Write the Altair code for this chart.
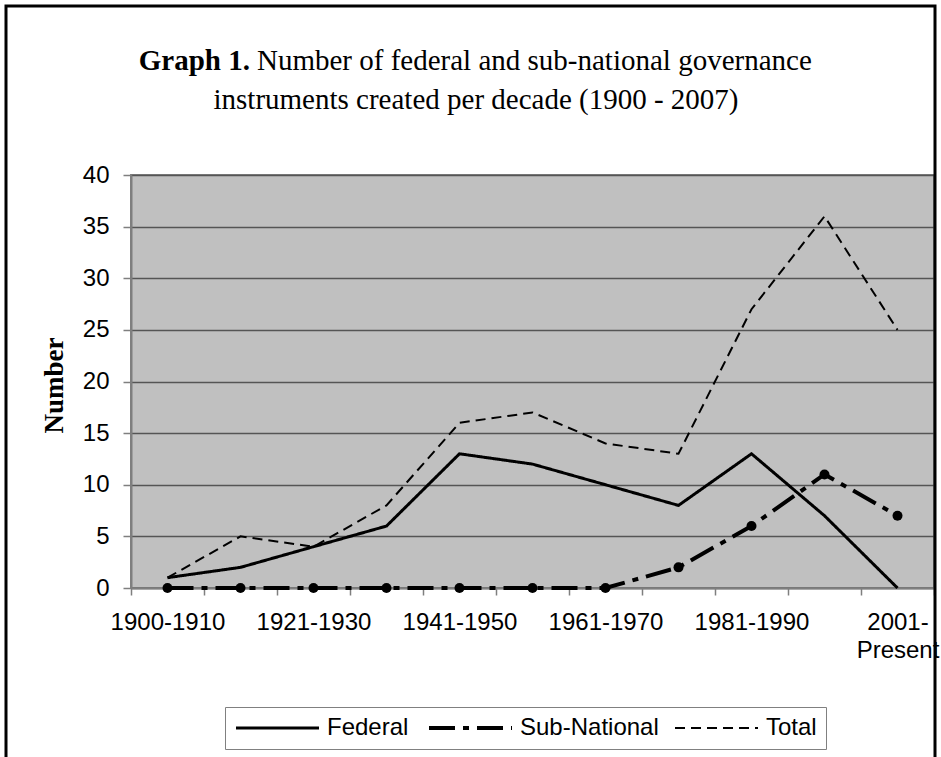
import json
import altair as alt
import pandas as pd

decades = ["1900-1910", "1911-1920", "1921-1930", "1931-1940", "1941-1950",
           "1951-1960", "1961-1970", "1971-1980", "1981-1990", "1991-2000",
           "2001-Present"]
federal = [1, 2, 4, 6, 13, 12, 10, 8, 13, 7, 0]
sub_national = [0, 0, 0, 0, 0, 0, 0, 2, 6, 11, 7]
total = [1, 5, 4, 8, 16, 17, 14, 13, 27, 36, 25]
series = ["Federal", "Sub-National", "Total"]
y_ticks = [0, 5, 10, 15, 20, 25, 30, 35, 40]

title_bold = "Graph 1."
title_rest = "Number of federal and sub-national governance"
title_line2 = "instruments created per decade (1900 - 2007)"

rows = []
for name, vals in zip(series, [federal, sub_national, total]):
    for d, v in zip(decades, vals):
        rows.append({"Decade": d, "Series": name, "Value": v})
df = pd.DataFrame(rows)
one = pd.DataFrame({"k": [0]})

odd = decades[1::2]
label_expr = ("datum.value == '2001-Present' ? ['2001-', 'Present'] : "
              "(indexof(" + json.dumps(odd) + ", datum.value) >= 0 ? '' : datum.label)")

x_enc = alt.X("Decade:N", sort=decades,
              scale=alt.Scale(type="band", paddingInner=0, paddingOuter=0),
              axis=alt.Axis(title=None, labelAngle=0, labelExpr=label_expr,
                            tickBand="extent", tickSize=7, labelPadding=15,
                            labelOverlap=False, labelLineHeight=28, grid=False,
                            domainColor="#7f7f7f", domainWidth=2,
                            tickColor="#7f7f7f", tickWidth=1.5))
y_enc = alt.Y("Value:Q", scale=alt.Scale(domain=[0, 40], nice=False),
              axis=alt.Axis(values=y_ticks, title="Number",
                            titleFont="Liberation Serif", titleFontWeight="bold",
                            titleFontSize=27, titleColor="black",
                            titleAngle=270, titleX=-69, titleY=210,
                            titleAlign="center", titleBaseline="alphabetic",
                            grid=True, gridColor="#555555", gridWidth=1.5,
                            tickSize=8, labelPadding=14,
                            domainColor="#7f7f7f", domainWidth=2,
                            tickColor="#7f7f7f", tickWidth=1.5))

# long horizontal swatch: radius 10 px (size 400), path from -1r to 7.3r -> 83 px
legend = alt.Legend(title=None, orient="none", legendX=94, legendY=532,
                    direction="horizontal", strokeColor="#808080",
                    fillColor="white", padding=9,
                    labelFont="Liberation Sans", labelFontSize=24,
                    labelColor="black", symbolSize=400,
                    symbolType="M-1,0H7.3",
                    labelOffset=69, columnPadding=12)

border = alt.Chart(one).mark_rect(filled=False, stroke="black", strokeWidth=3).encode(
    x=alt.value(-125), x2=alt.value(804), y=alt.value(-169), y2=alt.value(640)
)

lines = alt.Chart(df).mark_line().encode(
    x=x_enc,
    y=y_enc,
    color=alt.Color("Series:N", scale=alt.Scale(domain=series, range=["#000000"] * 3),
                    legend=legend),
    strokeDash=alt.StrokeDash("Series:N",
                              scale=alt.Scale(domain=series,
                                              range=[[1, 0], [26, 8, 6, 8], [10, 6]]),
                              legend=legend),
    strokeWidth=alt.StrokeWidth("Series:N",
                                scale=alt.Scale(type="ordinal", domain=series,
                                                range=[3, 4, 2]),
                                legend=legend),
)

points = alt.Chart(df).transform_filter(alt.datum.Series == "Sub-National").mark_point(
    filled=True, size=100, color="black", opacity=1
).encode(x=alt.X("Decade:N", sort=decades), y=alt.Y("Value:Q"))

t1 = alt.Chart(one).mark_text(font="Liberation Serif", fontSize=29, fontWeight="bold",
                              align="right", baseline="alphabetic", color="black").encode(
    x=alt.value(119), y=alt.value(-105), text=alt.value(title_bold))
t2 = alt.Chart(one).mark_text(font="Liberation Serif", fontSize=29,
                              align="left", baseline="alphabetic", color="black").encode(
    x=alt.value(126), y=alt.value(-105), text=alt.value(title_rest))
t3 = alt.Chart(one).mark_text(font="Liberation Serif", fontSize=29,
                              align="center", baseline="alphabetic", color="black").encode(
    x=alt.value(345), y=alt.value(-66), text=alt.value(title_line2))

chart = alt.layer(border, lines, points, t1, t2, t3).properties(
    width=803, height=413,
    autosize=alt.AutoSizeParams(type="none"),
    padding={"left": 131, "top": 175, "right": 7, "bottom": 169},
    background="white",
).configure_view(
    fill="#c0c0c0", stroke="#808080", strokeWidth=2
).configure_axis(
    labelFont="Liberation Sans", labelFontSize=24, labelColor="black"
)

chart.save("out.html", embed_options={"renderer": "svg", "actions": False})
